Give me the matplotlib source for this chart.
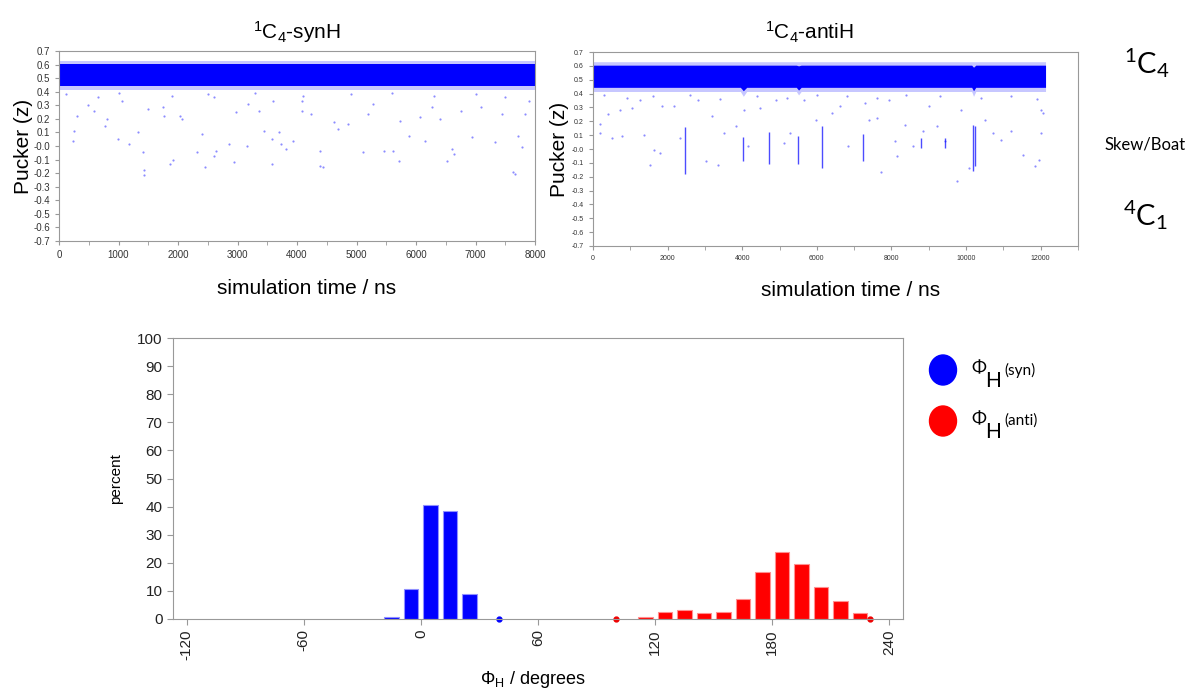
import numpy as np
import matplotlib.pyplot as plt
from matplotlib.patches import Ellipse

plt.rcParams['font.family'] = ['Liberation Sans', 'DejaVu Sans']
plt.rcParams['axes.unicode_minus'] = False

# ---- 1C4-synH trace: dense band + stray points (time ns, pucker z)
syn_edge_x = [0, 8000]
syn_core_lo = [0.445, 0.445]
syn_core_hi = [0.605, 0.605]
syn_fringe_lo = [0.415, 0.415]
syn_fringe_hi = [0.63, 0.63]
syn_out_x = [258, 240, 300, 480, 583, 780, 811, 991, 1051, 1171, 1321, 1411, 1429, 1429,
             1502, 1742, 1772, 1862, 1922, 2042, 2072, 2312, 2402, 2462, 2613, 2613, 2643,
             2853, 2943, 2973, 3153, 3183, 3363, 3453, 3574, 3604, 3574, 3694, 3724, 3814,
             3934, 4084, 4084, 4234, 4384, 4444, 4384, 4625, 4685, 4865, 5105, 5195, 5285,
             5465, 5616, 5706, 5736, 5886, 6066, 6156, 6276, 6396, 6517, 6607, 6637, 6757,
             6937, 7087, 7327, 7447, 7628, 7658, 7718, 7778, 7838, 7898,
             120, 650, 1000, 1900, 2500, 3300, 4100, 4900, 5600, 6300, 7000, 7500]
syn_out_y = [0.113, 0.035, 0.224, 0.30, 0.26, 0.15, 0.20, 0.05, 0.335, 0.015, 0.10, -0.047,
             -0.18, -0.21, 0.27, 0.286, 0.224, -0.133, -0.10, 0.224, 0.20, -0.047, 0.089,
             -0.158, 0.36, -0.072, -0.035, 0.015, -0.12, 0.25, 0.002, 0.31, 0.26, 0.113, 0.05,
             0.335, -0.133, 0.10, 0.015, -0.022, 0.04, 0.335, 0.26, 0.237, -0.145, -0.158,
             -0.035, 0.175, 0.126, 0.163, -0.047, 0.237, 0.31, -0.035, -0.035, -0.108, 0.187,
             0.076, 0.212, 0.04, 0.286, 0.20, -0.108, -0.022, -0.059, 0.26, 0.064, 0.286,
             0.027, 0.237, -0.195, -0.207, 0.076, -0.01, 0.237, 0.335,
             0.38, 0.36, 0.39, 0.37, 0.38, 0.39, 0.37, 0.38, 0.39, 0.37, 0.38, 0.36]

# ---- 1C4-antiH trace
anti_edge_x = [0, 3950, 4030, 4120, 5450, 5510, 5580, 10150, 10200, 10260, 12130]
anti_core_lo = [0.445, 0.445, 0.42, 0.445, 0.445, 0.425, 0.445, 0.445, 0.42, 0.445, 0.445]
anti_core_hi = [0.605, 0.605, 0.605, 0.605, 0.605, 0.60, 0.605, 0.605, 0.59, 0.605, 0.605]
anti_fringe_lo = [0.415, 0.415, 0.38, 0.415, 0.415, 0.39, 0.415, 0.415, 0.38, 0.415, 0.415]
anti_fringe_hi = [0.63, 0.63, 0.63, 0.63, 0.63, 0.63, 0.63, 0.63, 0.63, 0.63, 0.63]
anti_streak_x = [2479, 4025, 4722, 5506, 6150, 7245, 8780, 9424, 10175, 10229]
anti_streak_lo = [-0.177, -0.088, -0.105, -0.107, -0.136, -0.085, 0.008, 0.008, -0.16, -0.124]
anti_streak_hi = [0.157, 0.088, 0.121, 0.092, 0.169, 0.109, 0.080, 0.080, 0.176, 0.164]
anti_out_x = [193, 408, 193, 515, 730, 783, 1052, 1266, 1374, 1535, 1642, 1803, 1857, 2179,
              2340, 2823, 3037, 3198, 3359, 3520, 3842, 4057, 4164, 4486, 4915, 5130, 5291,
              5667, 5989, 6419, 6633, 6848, 7278, 7385, 7600, 7707, 7921, 8082, 8136, 8351,
              8565, 8834, 8995, 9209, 9424, 9746, 9853, 10068, 10497, 10712, 10926, 11194,
              11516, 11838, 11946, 12000, 12054, 12000,
              300, 900, 1600, 2600, 3400, 4400, 5200, 6000, 6800, 7600, 8400, 9300, 10400,
              11200, 11900]
anti_out_y = [0.112, 0.249, 0.177, 0.080, 0.285, 0.092, 0.297, 0.357, 0.104, -0.112, -0.004,
              -0.028, 0.309, 0.309, 0.080, 0.357, -0.088, 0.236, -0.112, 0.116, 0.164, 0.285,
              0.020, 0.297, 0.357, 0.044, 0.116, 0.357, 0.212, 0.261, 0.309, 0.020, 0.333,
              0.212, 0.224, -0.167, 0.357, 0.056, -0.052, 0.176, 0.020, 0.128, 0.309, 0.164,
              0.056, -0.232, 0.285, -0.136, 0.212, 0.116, 0.068, 0.128, -0.040, -0.124,
              -0.076, 0.116, 0.261, 0.285,
              0.39, 0.37, 0.38, 0.39, 0.36, 0.38, 0.37, 0.39, 0.38, 0.37, 0.39, 0.38, 0.37,
              0.38, 0.36]

# ---- Phi_H histogram (degrees, percent)
syn_phi = [-15, -5, 5, 15, 25]
syn_pct = [0.7, 10.8, 40.5, 38.4, 8.8]
syn_zero = [40]
anti_phi = [115, 125, 135, 145, 155, 165, 175, 185, 195, 205, 215, 225]
anti_pct = [0.7, 2.4, 3.1, 2.3, 2.6, 7.2, 16.8, 23.7, 19.6, 11.5, 6.3, 2.3]
anti_zero = [100, 230]

W, H = 1189, 691
fig = plt.figure(figsize=(W / 100, H / 100), dpi=100)


def box(x0, y0, x1, y1):
    return [x0 / W, 1 - y1 / H, (x1 - x0) / W, (y1 - y0) / H]


def trace_axes(ax, ticksize):
    for s in ax.spines.values():
        s.set_color('#999999')
    ax.tick_params(colors='#999999', labelcolor='#333333', labelsize=ticksize,
                   direction='out', length=3, which='both')
    ax.set_ylim(-0.7, 0.7)
    ax.set_yticks(np.arange(-0.7, 0.71, 0.1))
    ax.yaxis.set_major_formatter(plt.FormatStrFormatter('%.1f'))
    ax.set_ylabel('Pucker (z)', fontsize=15)


blue = '#0000ff'

# top left
ax1 = fig.add_axes(box(59, 51, 535, 241))
ax1.fill_between(syn_edge_x, syn_fringe_lo, syn_fringe_hi, color=blue, alpha=0.22, lw=0)
ax1.fill_between(syn_edge_x, syn_core_lo, syn_core_hi, color=blue, lw=0)
ax1.scatter(syn_out_x, syn_out_y, s=2.5, color=blue, alpha=0.45, lw=0)
ax1.set_xlim(0, 8000)
ax1.set_xticks(np.arange(0, 8001, 1000))
ax1.set_xticks(np.arange(0, 8001, 500), minor=True)
trace_axes(ax1, 7)
ax1.set_title(r'$\mathregular{^1C_4}$-synH', fontsize=15, pad=9)
ax1.set_xlabel('simulation time / ns', fontsize=15)
ax1.xaxis.set_label_coords((307 - 59) / 476, -0.2)
ax1.yaxis.set_label_coords(-0.055, 0.5)

# top right
ax2 = fig.add_axes(box(593, 52, 1078, 246))
ax2.fill_between(anti_edge_x, anti_fringe_lo, anti_fringe_hi, color=blue, alpha=0.22, lw=0)
ax2.fill_between(anti_edge_x, anti_core_lo, anti_core_hi, color=blue, lw=0)
ax2.vlines(anti_streak_x, anti_streak_lo, anti_streak_hi, color=blue, lw=1.0, alpha=0.7)
ax2.scatter(anti_out_x, anti_out_y, s=2.5, color=blue, alpha=0.45, lw=0)
ax2.set_xlim(0, 13000)
ax2.set_xticks(np.arange(0, 12001, 2000))
ax2.set_xticks(np.arange(0, 13001, 1000), minor=True)
trace_axes(ax2, 5)
ax2.set_title(r'$\mathregular{^1C_4}$-antiH', fontsize=15, pad=9, x=(809 - 593) / 485)
ax2.set_xlabel('simulation time / ns', fontsize=15)
ax2.xaxis.set_label_coords((851 - 593) / 485, -0.18)
ax2.yaxis.set_label_coords(-0.05, 0.5)

fig.text(1147 / W, 1 - 63 / H, r'$\mathregular{^1C_4}$', family='Lato', fontsize=21,
         ha='center', va='center')
fig.text(1145 / W, 1 - 144 / H, 'Skew/Boat', family='Lato', fontsize=12,
         ha='center', va='center')
fig.text(1145 / W, 1 - 215 / H, r'$\mathregular{^4C_1}$', family='Lato', fontsize=21,
         ha='center', va='center')

# bottom histogram
ax3 = fig.add_axes(box(173, 338, 903, 619))
ax3.bar(syn_phi, syn_pct, width=7.5, color=blue, edgecolor='#9090ff', lw=0.8)
ax3.bar(anti_phi, anti_pct, width=7.5, color='#ff0000', edgecolor='#ff9090', lw=0.8)
ax3.plot(syn_zero, [0] * len(syn_zero), 'o', color=blue, ms=3.5, clip_on=False)
ax3.plot(anti_zero, [0] * len(anti_zero), 'o', color='#ee0000', ms=3.5, clip_on=False)
ax3.set_xlim(-127, 247)
ax3.set_ylim(0, 100)
ax3.set_xticks(np.arange(-120, 241, 60))
ax3.set_yticks(np.arange(0, 101, 10))
for s in ax3.spines.values():
    s.set_color('#999999')
ax3.tick_params(colors='#999999', labelcolor='#222222', labelsize=11, length=4)
ax3.tick_params(axis='x', labelrotation=90)
ax3.set_ylabel('percent', fontsize=11)
ax3.yaxis.set_label_coords((123 - 173) / 730, 0.5)
ax3.set_xlabel(r'$\mathregular{\Phi_H}$ / degrees', fontsize=13)
ax3.xaxis.set_label_coords((533 - 173) / 730, -(669 - 619) / 281)

# legend drawn by hand (big dots, Gill-like text)
for yc, col, tag in [(370, blue, '(syn)'), (421, '#ff0000', '(anti)')]:
    fig.add_artist(Ellipse((943 / W, 1 - yc / H), 27 / W, 30 / H, color=col,
                           transform=fig.transFigure))
    fig.text(971 / W, 1 - (yc - 2) / H, 'Φ', family='Lato', fontsize=13, va='center')
    fig.text(985 / W, 1 - (yc + 11) / H, 'H', family='Lato', fontsize=15, va='center')
    fig.text(1004 / W, 1 - yc / H, tag, family='Lato', fontsize=11, va='center')

fig.savefig('out.png', dpi=100)
